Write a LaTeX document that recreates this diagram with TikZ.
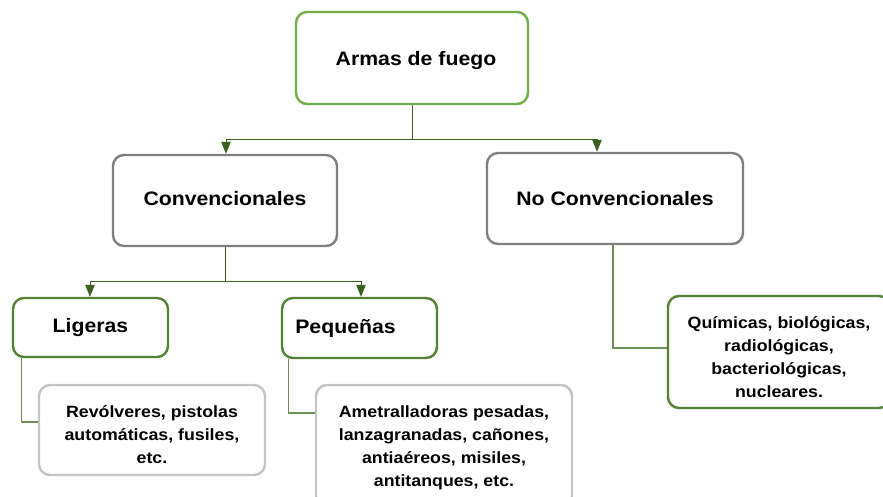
\documentclass[tikz,border=0pt]{standalone}
\usepackage{fontspec}
\setmainfont{Liberation Sans}[FakeStretch=1.09]
\usetikzlibrary{arrows.meta,calc}
\definecolor{lgreen}{HTML}{70AD47}
\definecolor{dgreen}{HTML}{548235}
\definecolor{conn}{HTML}{3B6020}
\definecolor{sconn}{HTML}{6E8F58}
\definecolor{mgray}{HTML}{7F7F7F}
\definecolor{lgray}{HTML}{C4C4C4}
\tikzset{
  box/.style={draw, line width=2.4pt, rounded corners=11pt, fill=white, inner sep=0pt, align=center, font=\bfseries\fontsize{19.5}{23}\selectfont},
  btxt/.style={inner sep=0pt, font=\bfseries\fontsize{19.5}{23}\selectfont},
  sbox/.style={draw, line width=2.4pt, rounded corners=11pt, fill=white, inner sep=0pt},
  stxt/.style={align=center, inner sep=0pt, font=\bfseries\fontsize{16.3}{23}\selectfont},
  arr/.style={draw=conn, line width=1pt, -{Triangle[width=9.5pt,length=12pt]}},
  link/.style={draw=conn, line width=1pt},
  slink/.style={draw=sconn, line width=1.2pt}
}
\begin{document}
\begin{tikzpicture}[x=1pt,y=-1pt]
\useasboundingbox (0,0) rectangle (883,497);
\node[sbox, draw=lgreen, minimum width=232pt, minimum height=92pt,
  label={[btxt, xshift=4pt, yshift=-3pt]center:{Armas de fuego}}] (top) at (412,58) {};
\node[box, draw=mgray, minimum width=224pt, minimum height=91pt,
  label={[btxt, yshift=2pt]center:{Convencionales}}] (conv) at (225,200.5) {};
\node[box, draw=mgray, minimum width=256pt, minimum height=91pt] (noconv) at (615,198.5) {No Convencionales};
\node[box, draw=dgreen, minimum width=155pt, minimum height=59pt] (lig) at (90.5,327.5) {Ligeras};
\node[box, draw=dgreen, minimum width=155pt, minimum height=60pt] (peq) at (359.5,328) {\hspace*{-28pt}Pequeñas};
\node[sbox, draw=lgray, minimum width=226pt, minimum height=90pt,
  label={[stxt, yshift=-5pt]center:{Revólveres, pistolas\\automáticas, fusiles,\\etc.}}] (rev) at (152,430) {};
\node[sbox, draw=lgray, minimum width=256pt, minimum height=122pt,
  label={[stxt, yshift=-2pt]center:{Ametralladoras pesadas,\\lanzagranadas, cañones,\\antiaéreos, misiles,\\antitanques, etc.}}] (ame) at (444,446) {};
\node[sbox, draw=dgreen, minimum width=222pt, minimum height=112pt,
  label={[stxt, yshift=-5pt]center:{Químicas, biológicas,\\radiológicas,\\bacteriológicas,\\nucleares.}}] (quim) at (779,352) {};
% connectors
\coordinate (j1) at ($(top.south)+(0,-34pt)$);
\draw[link] (top.south) -- (j1);
\draw[arr] (j1) -| ([xshift=1pt]conv.north);
\draw[arr] (j1) -| ([xshift=-18pt]noconv.north);
\coordinate (j2) at ($(conv.south)+(0,-34pt)$);
\draw[link] (conv.south) -- (j2);
\draw[arr] (j2) -| ([xshift=-0.5pt]lig.north);
\draw[arr] (j2) -| ([xshift=1.5pt]peq.north);
\draw[slink] ([xshift=10pt]lig.south west) |- ([yshift=8pt]rev.west);
\draw[slink] ([xshift=8pt]peq.south west) |- ([yshift=33pt]ame.west);
\draw[slink] ([xshift=-2pt]noconv.south) |- ([yshift=4pt]quim.west);
\end{tikzpicture}
\end{document}
